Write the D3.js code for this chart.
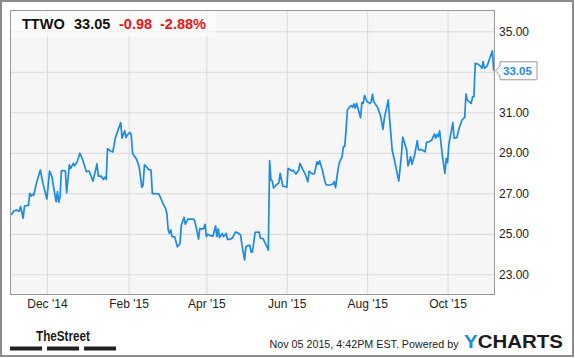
<!DOCTYPE html>
<html>
<head>
<meta charset="utf-8">
<script src="https://cdnjs.cloudflare.com/ajax/libs/d3/7.8.5/d3.min.js"></script>
<style>
  body { margin: 0; background: #fff; }
  text { font-family: "Liberation Sans", Arial, sans-serif; }
</style>
</head>
<body>
<svg width="575" height="358"></svg>
<script>
const dates = [
  "2014-11-04","2014-11-06","2014-11-08","2014-11-10","2014-11-11","2014-11-12","2014-11-13","2014-11-14","2014-11-16","2014-11-17","2014-11-18","2014-11-19","2014-11-20","2014-11-21","2014-11-23","2014-11-26","2014-11-28",
  "2014-12-01","2014-12-03","2014-12-05","2014-12-06","2014-12-08","2014-12-09","2014-12-10","2014-12-11","2014-12-12","2014-12-14","2014-12-15","2014-12-16","2014-12-18","2014-12-19","2014-12-21","2014-12-22","2014-12-24","2014-12-26","2014-12-28","2014-12-31",
  "2015-01-02","2015-01-05","2015-01-08","2015-01-09","2015-01-11","2015-01-13","2015-01-14","2015-01-15","2015-01-16","2015-01-18","2015-01-20","2015-01-22","2015-01-24","2015-01-26","2015-01-27","2015-01-29","2015-01-30","2015-01-31",
  "2015-02-02","2015-02-03","2015-02-04","2015-02-06","2015-02-07","2015-02-09","2015-02-11","2015-02-12","2015-02-13","2015-02-15","2015-02-16","2015-02-18","2015-02-19","2015-02-22","2015-02-24","2015-02-26","2015-02-27",
  "2015-03-01","2015-03-02","2015-03-03","2015-03-04","2015-03-05","2015-03-06","2015-03-07","2015-03-08","2015-03-10","2015-03-11","2015-03-12","2015-03-13","2015-03-15","2015-03-16","2015-03-18","2015-03-20","2015-03-22","2015-03-23","2015-03-25","2015-03-26","2015-03-27","2015-03-29","2015-03-30","2015-03-31",
  "2015-04-01","2015-04-02","2015-04-04","2015-04-06","2015-04-08","2015-04-09","2015-04-10","2015-04-11","2015-04-13","2015-04-14","2015-04-16","2015-04-17","2015-04-19","2015-04-21","2015-04-23","2015-04-25","2015-04-27","2015-04-28","2015-04-30",
  "2015-05-01","2015-05-03","2015-05-04","2015-05-05","2015-05-06","2015-05-08","2015-05-11","2015-05-12","2015-05-14","2015-05-17","2015-05-18","2015-05-19","2015-05-20","2015-05-21","2015-05-22","2015-05-24","2015-05-26","2015-05-27","2015-05-29",
  "2015-06-01","2015-06-02","2015-06-03","2015-06-05","2015-06-06","2015-06-08","2015-06-10","2015-06-11","2015-06-13","2015-06-15","2015-06-17","2015-06-18","2015-06-19","2015-06-21","2015-06-22","2015-06-24","2015-06-25","2015-06-26","2015-06-28","2015-06-30",
  "2015-07-01","2015-07-04","2015-07-06","2015-07-07","2015-07-08","2015-07-10","2015-07-11","2015-07-13","2015-07-14","2015-07-15","2015-07-16","2015-07-17","2015-07-18","2015-07-19","2015-07-20","2015-07-21","2015-07-22","2015-07-23","2015-07-24","2015-07-25","2015-07-27","2015-07-28","2015-07-29","2015-07-30",
  "2015-08-01","2015-08-03","2015-08-04","2015-08-05","2015-08-06","2015-08-09","2015-08-11","2015-08-13","2015-08-14","2015-08-17","2015-08-18","2015-08-20","2015-08-23","2015-08-25","2015-08-27","2015-08-28","2015-08-31",
  "2015-09-01","2015-09-03","2015-09-04","2015-09-06","2015-09-08","2015-09-09","2015-09-11","2015-09-14","2015-09-15","2015-09-17","2015-09-19","2015-09-21","2015-09-22","2015-09-23","2015-09-24","2015-09-25","2015-09-27","2015-09-29","2015-09-30",
  "2015-10-01","2015-10-02","2015-10-05","2015-10-06","2015-10-08","2015-10-10","2015-10-12","2015-10-14","2015-10-15","2015-10-16","2015-10-19","2015-10-20","2015-10-21","2015-10-22","2015-10-24","2015-10-26","2015-10-27","2015-10-28","2015-10-29","2015-10-31",
  "2015-11-02","2015-11-04","2015-11-05"
];
const prices = [
  25.93,26.14,26.17,26.12,26.34,26.08,25.77,26.37,26.40,26.40,27.00,26.87,26.95,26.90,27.49,28.15,27.49,
  26.72,28.10,27.79,27.33,26.59,27.08,26.56,26.83,28.12,28.12,28.10,27.03,28.40,28.23,28.48,28.36,28.56,28.98,28.68,28.07,
  28.10,27.60,28.45,27.85,27.85,27.69,27.80,27.69,29.20,29.10,29.04,29.75,30.13,30.49,29.72,30.09,29.75,29.88,
  30.01,29.89,28.98,28.78,28.68,28.31,27.30,27.41,28.40,28.28,28.18,28.15,26.98,26.98,26.96,26.67,26.50,
  26.26,26.01,25.22,25.02,25.19,24.86,24.85,24.85,24.36,24.43,24.53,25.43,25.81,25.48,25.73,25.73,25.73,25.68,25.10,24.74,25.24,25.24,25.26,25.47,
  24.86,24.98,24.91,24.89,25.39,24.86,25.24,24.81,25.02,24.86,25.02,24.73,24.73,24.81,25.09,25.05,24.93,24.45,23.71,
  24.36,24.43,24.43,24.09,24.12,25.07,25.09,24.78,24.76,24.36,24.20,28.61,27.66,27.61,27.26,27.41,27.52,27.99,27.36,
  27.30,28.23,28.19,28.10,28.14,27.95,28.14,28.48,28.19,27.95,27.57,28.10,28.02,27.95,27.98,28.56,28.43,28.60,28.15,27.57,
  27.41,27.41,27.46,27.57,27.28,28.23,28.53,28.81,29.30,29.32,30.13,31.11,31.20,31.28,31.33,31.25,31.41,31.20,31.44,31.20,30.73,31.49,31.44,31.82,
  31.52,31.44,31.49,31.89,31.52,31.23,30.87,30.16,30.70,31.60,30.70,29.14,28.23,27.61,28.89,29.77,29.14,
  28.35,28.81,28.43,28.89,29.60,29.14,29.17,29.05,29.52,29.55,29.63,29.93,29.72,29.91,29.80,30.08,28.89,27.99,28.73,
  28.51,29.42,30.49,29.72,29.75,30.26,30.62,30.75,31.90,31.60,31.44,31.77,31.77,33.42,33.38,33.28,33.17,33.50,33.17,33.28,
  33.67,34.03,33.05
];
const priceTicks = [23, 25, 27, 29, 31, 33, 35];
const monthTicks = ["2014-12-01","2015-02-01","2015-04-01","2015-06-01","2015-08-01","2015-10-01"];
const monthLabels = ["Dec '14","Feb '15","Apr '15","Jun '15","Aug '15","Oct '15"];
const ticker = "TTWO";
const lastPrice = "33.05";
const change = "-0.98";
const changePct = "-2.88%";
const stampText = "Nov 05 2015, 4:42PM EST. Powered by";

const plot = {left: 10, top: 10, right: 495, bottom: 295};
const lineColor = "#1a8be6";
const gridColor = "#dadada";

var parseDate = d3.timeParse("%Y-%m-%d");
var series = dates.map(function(d, i) { return {date: parseDate(d), value: prices[i]}; });
var last = series[series.length - 1];

var svg = d3.select("svg");

var xScale = d3.scaleTime()
               .domain([new Date(2014, 10, 3), new Date(2015, 10, 6)])
               .range([plot.left, plot.right]);
var yScale = d3.scaleLinear()
               .domain([21.98, 36.05])
               .range([plot.bottom, plot.top]);

// outer frame
svg.append("rect")
   .attr("x", 1).attr("y", 1).attr("width", 572).attr("height", 355)
   .attr("fill", "#fff").attr("stroke", "#8c8c8c").attr("stroke-width", 2);

svg.append("rect")
   .attr("x", plot.left).attr("y", plot.top)
   .attr("width", plot.right - plot.left).attr("height", plot.bottom - plot.top)
   .attr("fill", "#f6f6f6");

function renderPriceAxis(){
  var yAxis = d3.axisRight(yScale)
                .tickValues(priceTicks)
                .tickFormat(d3.format(".2f"))
                .tickSize(plot.right - plot.left);
  svg.append("g")
     .attr("class", "axis")
     .attr("transform", "translate(" + plot.left + ",0)")
     .call(customYAxis);

  function customYAxis(g) {
    g.call(yAxis);
    g.select(".domain").remove();
    g.selectAll(".tick line").attr("stroke", gridColor);
    g.selectAll(".tick text")
     .attr("x", plot.right - plot.left + 4)
     .attr("fill", "#222")
     .style("font-size", "12px");
    // the last-value flag hides the label it sits on
    g.selectAll(".tick text")
     .filter(function(d) { return Math.abs(yScale(d) - yScale(last.value)) < 12; })
     .remove();
  }
}

function renderDateAxis(){
  var xAxis = d3.axisBottom(xScale)
                .tickValues(monthTicks.map(parseDate))
                .tickFormat(function(d, i) { return monthLabels[i]; })
                .tickSize(plot.bottom - plot.top);
  svg.append("g")
     .attr("class", "axis")
     .attr("transform", "translate(0," + plot.top + ")")
     .call(customXAxis);

  function customXAxis(g) {
    g.call(xAxis);
    g.select(".domain").remove();
    g.selectAll(".tick line").attr("stroke", gridColor);
    g.selectAll(".tick text")
     .attr("y", plot.bottom - plot.top + 4)
     .attr("dy", "0.71em")
     .attr("fill", "#222")
     .style("font-size", "12px");
  }
}

renderPriceAxis();
renderDateAxis();

var line = d3.line()
             .x(function(d) { return xScale(d.date); })
             .y(function(d) { return yScale(d.value); });

svg.append("path")
   .datum(series)
   .attr("d", line)
   .attr("fill", "none")
   .attr("stroke", lineColor)
   .attr("stroke-width", 1.7)
   .attr("stroke-linejoin", "round");

// plot border
svg.append("rect")
   .attr("x", plot.left + 0.5).attr("y", plot.top + 0.5)
   .attr("width", plot.right - plot.left - 1).attr("height", plot.bottom - plot.top - 1)
   .attr("fill", "none").attr("stroke", "#9a9a9a");

// quote header
svg.append("rect")
   .attr("x", plot.left + 1).attr("y", plot.top + 1)
   .attr("width", 205).attr("height", 26)
   .attr("fill", "#fff").attr("opacity", 0.6);

var header = svg.append("text")
                .attr("x", 22).attr("y", 28.5)
                .style("font-size", "14.5px").style("font-weight", "bold");
header.append("tspan").attr("fill", "#111").text(ticker);
header.append("tspan").attr("x", 74).attr("fill", "#111").text(lastPrice);
header.append("tspan").attr("x", 119).attr("fill", "#f01414").text(change);
header.append("tspan").attr("x", 160).attr("fill", "#f01414").text(changePct);

// last value flag
var ly = yScale(last.value);
svg.append("path")
   .attr("d", "M" + (plot.right + 0.5) + "," + ly +
              " L" + (plot.right + 5) + "," + (ly - 5) +
              " L" + (plot.right + 5) + "," + (ly - 9) +
              " L" + (plot.right + 42) + "," + (ly - 9) +
              " L" + (plot.right + 42) + "," + (ly + 9) +
              " L" + (plot.right + 5) + "," + (ly + 9) +
              " L" + (plot.right + 5) + "," + (ly + 5) + " Z")
   .attr("fill", "#fff").attr("stroke", "#999");
svg.append("text")
   .attr("x", plot.right + 8).attr("y", ly + 4)
   .attr("fill", lineColor)
   .style("font-size", "11.5px").style("font-weight", "bold")
   .text(lastPrice);

// footer: TheStreet logo
svg.append("text")
   .attr("x", 36).attr("y", 341)
   .attr("textLength", 54).attr("lengthAdjust", "spacingAndGlyphs")
   .attr("fill", "#1a1a1a")
   .style("font-size", "15px").style("font-weight", "bold")
   .text("TheStreet");
[10, 47, 84].forEach(function(x) {
  svg.append("rect").attr("x", x).attr("y", 346.5).attr("width", 32).attr("height", 4).attr("fill", "#222");
});

svg.append("text")
   .attr("x", 269.5).attr("y", 348)
   .attr("textLength", 189).attr("lengthAdjust", "spacingAndGlyphs")
   .attr("fill", "#222")
   .style("font-size", "11px")
   .text(stampText);

var logo = svg.append("text")
              .attr("x", 464).attr("y", 348)
              .attr("textLength", 99).attr("lengthAdjust", "spacingAndGlyphs")
              .style("font-size", "18.5px").style("font-weight", "bold");
logo.append("tspan").attr("fill", "#1a8be6").text("Y");
logo.append("tspan").attr("fill", "#1b1b1b").text("CHARTS");
</script>
</body>
</html>
